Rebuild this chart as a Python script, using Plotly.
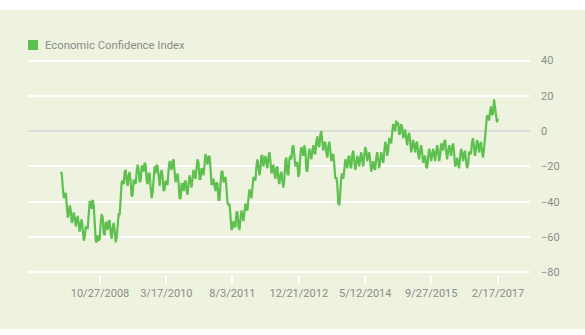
import plotly.graph_objects as go
import pandas as pd

# Economic Confidence Index, every two weeks
eci_values = [
    -23, -32, -36, -42, -47, -45, -50, -49, -51, -53,
    -52, -56, -60, -55, -47, -40, -39, -52, -63, -62,
    -52, -49, -59, -52, -51, -58, -55, -57, -60, -47,
    -38, -28, -23, -28, -25, -29, -36, -28, -23, -22,
    -28, -20, -18, -28, -24, -32, -35, -20, -19, -28,
    -25, -26, -33, -30, -22, -19, -17, -23, -26, -29,
    -38, -30, -29, -34, -30, -28, -27, -24, -21, -18,
    -27, -22, -19, -15, -15, -21, -30, -31, -29, -39,
    -30, -23, -27, -32, -42, -48, -55, -54, -46, -54,
    -50, -48, -46, -44, -38, -36, -32, -27, -20, -20,
    -21, -14, -17, -18, -15, -17, -22, -24, -21, -27,
    -25, -28, -27, -15, -25, -14, -9, -14, -18, -26,
    -14, -11, -8, -22, -15, -13, -11, -12, -6, -8,
    -2, -6, -7, -12, -9, -11, -14, -19, -26, -41,
    -35, -24, -22, -18, -15, -20, -13, -17, -19, -16,
    -15, -17, -14, -11, -14, -17, -20, -21, -15, -16,
    -17, -15, -12, -8, -11, -5, -1, 2, 6, 5,
    -1, 2, -2, -4, -3, -6, -9, -8, -7, -13,
    -11, -12, -15, -20, -15, -12, -14, -13, -12, -11,
    -14, -8, -6, -11, -12, -11, -9, -12, -19, -18,
    -15, -12, -13, -17, -19, -12, -6, -9, -10, -7,
    -8, -12, -10, 6, 8, 11, 9, 18, 9, 7,
]
# in-between readings (day-to-day swings visible in the band)
eci_mid = [
    -24, -38, -35, -49, -42, -52, -46, -54, -48, -57,
    -50, -62, -54, -55, -40, -44, -42, -62, -59, -61,
    -47, -58, -52, -56, -51, -61, -52, -63, -50, -47,
    -29, -30, -22, -31, -23, -37, -28, -30, -19, -29,
    -20, -23, -19, -30, -24, -38, -24, -24, -20, -31,
    -22, -34, -28, -30, -17, -22, -16, -29, -24, -38,
    -30, -34, -28, -36, -25, -32, -22, -27, -16, -27,
    -21, -25, -13, -19, -14, -30, -27, -34, -30, -39,
    -23, -29, -26, -41, -41, -56, -51, -54, -46, -56,
    -45, -51, -41, -45, -33, -38, -26, -28, -16, -25,
    -14, -20, -14, -21, -12, -24, -19, -27, -20, -30,
    -23, -32, -17, -24, -16, -16, -8, -20, -18, -24,
    -9, -14, -11, -23, -10, -16, -8, -13, -3, -9,
    0, -11, -6, -15, -6, -17, -13, -27, -30, -42,
    -26, -27, -16, -21, -14, -21, -11, -22, -14, -20,
    -12, -20, -9, -17, -12, -23, -17, -22, -12, -21,
    -12, -18, -6, -14, -4, -7, 4, 0, 3, -2,
    4, -4, 1, -8, -1, -12, -5, -12, -6, -16,
    -8, -18, -14, -21, -10, -17, -10, -17, -8, -17,
    -7, -11, -5, -16, -8, -14, -7, -20, -15, -21,
    -10, -17, -11, -21, -12, -13, -4, -14, -5, -12,
    -6, -15, -2, 9, 6, 14, 10, 12, 5,
]
eci_series = []
for i, v in enumerate(eci_values):
    eci_series.append(v)
    if i < len(eci_mid):
        eci_series.append(eci_mid[i])
eci_dates = pd.date_range("2008-01-02", "2017-02-17", periods=len(eci_series))

tick_dates = ["2008-10-27", "2010-03-17", "2011-08-03", "2012-12-21",
              "2014-05-12", "2015-09-27", "2017-02-17"]
tick_labels = ["10/27/2008", "3/17/2010", "8/3/2011", "12/21/2012",
               "5/12/2014", "9/27/2015", "2/17/2017"]
y_ticks = [-80, -60, -40, -20, 0, 20, 40]

series_name = "Economic Confidence Index"
green = "#5ec04e"
bg = "#edf3de"
text_gray = "#8c8c8c"
font = "Roboto"

fig = go.Figure()
fig.add_trace(go.Scatter(
    x=eci_dates, y=eci_series, mode="lines",
    line=dict(color=green, width=2.2), showlegend=False,
    name=series_name,
))

W, H = 585, 335
L, R, T, B = 28, 55, 57, 60
pw, ph = W - L - R, H - T - B

def px_x(p):
    return (p - L) / pw

def px_y(p):
    return (H - B - p) / ph

shapes = [
    dict(type="rect", xref="paper", yref="paper", layer="below",
         x0=px_x(0), x1=px_x(W), y0=px_y(329), y1=px_y(10),
         fillcolor=bg, line=dict(width=0)),
    dict(type="rect", xref="paper", yref="paper", layer="above",
         x0=px_x(28), x1=px_x(38), y0=px_y(50), y1=px_y(40),
         fillcolor=green, line=dict(width=0)),
]

fig.update_layout(
    width=W, height=H,
    margin=dict(l=L, r=R, t=T, b=B, pad=0),
    paper_bgcolor="white",
    plot_bgcolor="rgba(0,0,0,0)",
    showlegend=False,
    shapes=shapes,
    annotations=[dict(
        xref="paper", yref="paper", x=px_x(43), y=px_y(45),
        xanchor="left", yanchor="middle", showarrow=False,
        text=series_name, font=dict(family=font, size=11.3, color=text_gray),
    )],
    xaxis=dict(
        range=["2007-04-27", "2017-10-19"],
        tickvals=tick_dates, ticktext=tick_labels,
        showgrid=False, zeroline=False, showline=False,
        ticks="outside", ticklen=8, tickwidth=2, tickcolor="white",
        tickfont=dict(family=font, size=11, color=text_gray),
    ),
    yaxis=dict(
        range=[-81.5, 42], side="right",
        tickvals=y_ticks,
        showgrid=True, gridcolor="white", gridwidth=2,
        zeroline=True, zerolinecolor="#dcdcdc", zerolinewidth=2,
        showline=False, ticks="",
        ticklabelstandoff=10,
        tickfont=dict(family=font, size=11, color=text_gray),
    ),
)

fig.write_html("out.html")
